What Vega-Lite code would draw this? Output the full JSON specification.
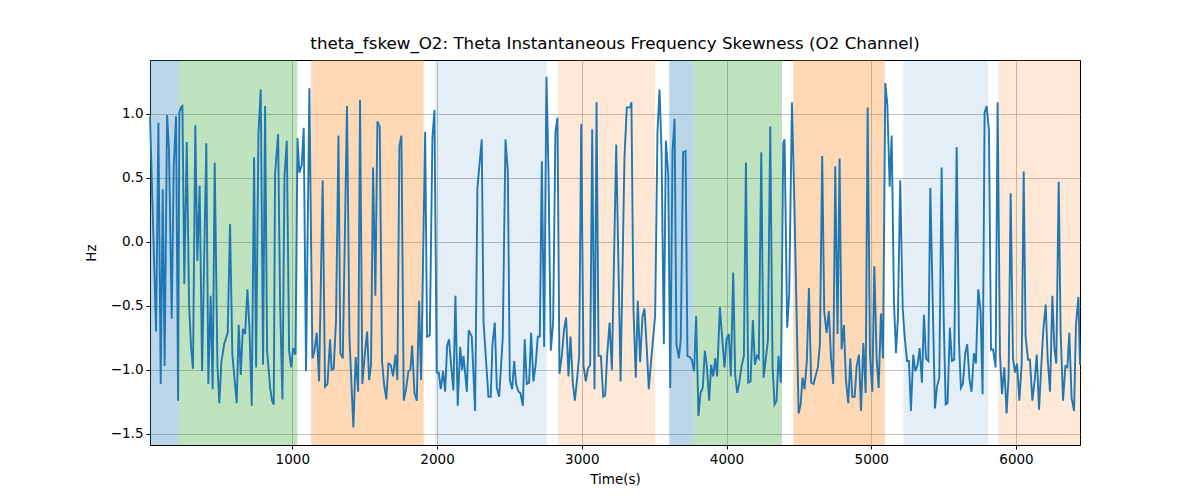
{
 "$schema": "https://vega.github.io/schema/vega-lite/v6.json",
 "width": 930,
 "height": 385,
 "autosize": "none",
 "padding": {"left": 150, "top": 60, "right": 120, "bottom": 55},
 "background": "white",
 "title": {"text": "theta_fskew_O2: Theta Instantaneous Frequency Skewness (O2 Channel)", "font": "DejaVu Sans", "fontSize": 16.7, "fontWeight": "normal", "color": "black", "offset": 7},
 "config": {
  "view": {"stroke": "black", "strokeWidth": 1},
  "axis": {"domain": false, "tickColor": "black", "tickSize": 4, "labelColor": "black", "labelFont": "DejaVu Sans", "labelFontSize": 13.5, "titleFont": "DejaVu Sans", "titleFontSize": 13.5, "titleFontWeight": "normal", "titleColor": "black", "gridColor": "#b0b0b0", "gridWidth": 0.8, "labelPadding": 3}
 },
 "datasets": {
  "spans": [
   {"start": 17, "end": 217, "phase": "A"},
   {"start": 217, "end": 1035, "phase": "B"},
   {"start": 1130, "end": 1908, "phase": "C"},
   {"start": 1987, "end": 2758, "phase": "D"},
   {"start": 2835, "end": 3507, "phase": "E"},
   {"start": 3604, "end": 3772, "phase": "A"},
   {"start": 3772, "end": 4383, "phase": "B"},
   {"start": 4461, "end": 5094, "phase": "C"},
   {"start": 5221, "end": 5808, "phase": "D"},
   {"start": 5877, "end": 6442, "phase": "E"}
  ],
  "series": [
   {"t":17,"v":0.98},{"t":59,"v":-0.70},{"t":75,"v":0.93},{"t":91,"v":-1.11},{"t":105,"v":0.41},{"t":118,"v":-0.97},{"t":135,"v":0.99},{"t":148,"v":0.73},{"t":167,"v":-0.60},{"t":181,"v":0.60},{"t":197,"v":0.98},{"t":211,"v":-1.24},{"t":220,"v":1.01},{"t":231,"v":1.05},{"t":241,"v":1.06},{"t":254,"v":-0.33},{"t":271,"v":0.78},{"t":287,"v":-0.49},{"t":301,"v":-0.83},{"t":314,"v":-0.99},{"t":330,"v":0.91},{"t":344,"v":-0.15},{"t":360,"v":0.44},{"t":377,"v":-1.01},{"t":406,"v":0.77},{"t":420,"v":-1.11},{"t":436,"v":-0.42},{"t":450,"v":-1.15},{"t":464,"v":0.62},{"t":483,"v":-0.97},{"t":496,"v":-1.26},{"t":510,"v":-0.94},{"t":529,"v":-0.80},{"t":554,"v":-0.71},{"t":570,"v":0.14},{"t":586,"v":-0.88},{"t":616,"v":-1.26},{"t":630,"v":-0.65},{"t":644,"v":-1.04},{"t":658,"v":-0.68},{"t":674,"v":-0.72},{"t":690,"v":-0.37},{"t":704,"v":-0.67},{"t":720,"v":-1.28},{"t":736,"v":0.66},{"t":750,"v":-0.98},{"t":766,"v":0.84},{"t":782,"v":1.19},{"t":798,"v":-0.96},{"t":812,"v":1.06},{"t":826,"v":-0.85},{"t":847,"v":-1.14},{"t":860,"v":-1.24},{"t":872,"v":-1.27},{"t":881,"v":0.53},{"t":902,"v":0.84},{"t":916,"v":-0.49},{"t":932,"v":-1.23},{"t":946,"v":0.51},{"t":962,"v":0.79},{"t":978,"v":-0.85},{"t":992,"v":-0.98},{"t":1006,"v":-0.83},{"t":1022,"v":-0.88},{"t":1036,"v":0.81},{"t":1049,"v":0.54},{"t":1065,"v":0.60},{"t":1079,"v":0.89},{"t":1095,"v":-1.01},{"t":1118,"v":1.20},
   {"t":1139,"v":-0.91},{"t":1153,"v":-0.85},{"t":1169,"v":-0.71},{"t":1185,"v":-1.09},{"t":1210,"v":0.48},{"t":1226,"v":-1.13},{"t":1243,"v":-1.11},{"t":1261,"v":-0.76},{"t":1272,"v":-1.00},{"t":1286,"v":-0.99},{"t":1302,"v":-0.62},{"t":1319,"v":0.83},{"t":1332,"v":-0.87},{"t":1349,"v":-0.91},{"t":1378,"v":1.06},{"t":1395,"v":-0.75},{"t":1422,"v":-1.45},{"t":1438,"v":-0.90},{"t":1455,"v":-1.17},{"t":1468,"v":1.11},{"t":1484,"v":-1.11},{"t":1501,"v":-0.88},{"t":1517,"v":-0.70},{"t":1531,"v":-1.08},{"t":1544,"v":-0.96},{"t":1558,"v":0.58},{"t":1574,"v":-0.42},{"t":1588,"v":0.94},{"t":1604,"v":0.90},{"t":1620,"v":-0.93},{"t":1634,"v":-1.11},{"t":1650,"v":-1.23},{"t":1664,"v":-0.95},{"t":1680,"v":-0.96},{"t":1696,"v":-1.05},{"t":1713,"v":-0.88},{"t":1726,"v":-1.08},{"t":1740,"v":0.75},{"t":1754,"v":0.83},{"t":1770,"v":-1.24},{"t":1786,"v":-1.15},{"t":1802,"v":-1.01},{"t":1816,"v":-1.00},{"t":1828,"v":-0.81},{"t":1844,"v":-1.18},{"t":1860,"v":-1.24},{"t":1876,"v":-0.46},{"t":1890,"v":-1.08},{"t":1918,"v":0.86},{"t":1931,"v":-0.74},{"t":1950,"v":-0.73},{"t":1968,"v":0.81},{"t":1982,"v":1.03},{"t":1998,"v":-1.02},{"t":2012,"v":-1.02},{"t":2026,"v":-1.15},{"t":2042,"v":-1.01},{"t":2056,"v":-1.17},{"t":2070,"v":-0.81},{"t":2083,"v":-0.76},{"t":2097,"v":-0.96},{"t":2113,"v":-1.16},{"t":2127,"v":-0.42},{"t":2143,"v":-1.28},{"t":2160,"v":-0.82},{"t":2173,"v":-1.00},{"t":2183,"v":-0.89},{"t":2192,"v":-1.00},{"t":2206,"v":-1.17},{"t":2219,"v":-0.69},
   {"t":2240,"v":-0.74},{"t":2263,"v":-1.32},{"t":2279,"v":0.42},{"t":2309,"v":0.80},{"t":2321,"v":-0.62},{"t":2355,"v":-1.21},{"t":2371,"v":-1.21},{"t":2383,"v":-0.80},{"t":2399,"v":-0.63},{"t":2413,"v":-1.14},{"t":2429,"v":-1.21},{"t":2454,"v":-0.75},{"t":2473,"v":0.80},{"t":2489,"v":0.55},{"t":2503,"v":-1.08},{"t":2519,"v":-1.15},{"t":2533,"v":-0.93},{"t":2546,"v":-1.11},{"t":2563,"v":-1.17},{"t":2576,"v":-1.18},{"t":2593,"v":-1.28},{"t":2606,"v":-0.76},{"t":2620,"v":-1.11},{"t":2636,"v":-1.10},{"t":2650,"v":-0.71},{"t":2666,"v":-1.09},{"t":2682,"v":-0.95},{"t":2696,"v":-0.74},{"t":2710,"v":-0.74},{"t":2724,"v":0.63},{"t":2740,"v":-0.82},{"t":2756,"v":1.29},{"t":2770,"v":0.55},{"t":2786,"v":-0.85},{"t":2802,"v":-0.63},{"t":2818,"v":0.86},{"t":2832,"v":0.97},{"t":2846,"v":-1.03},{"t":2862,"v":-0.89},{"t":2878,"v":-0.68},{"t":2892,"v":-0.59},{"t":2908,"v":-1.05},{"t":2922,"v":-0.74},{"t":2938,"v":-1.10},{"t":2952,"v":-1.24},{"t":2966,"v":-1.09},{"t":2982,"v":-0.89},{"t":2996,"v":0.92},{"t":3012,"v":-0.97},{"t":3028,"v":-1.09},{"t":3042,"v":-0.99},{"t":3058,"v":-0.96},{"t":3072,"v":0.88},{"t":3088,"v":-1.15},{"t":3102,"v":1.09},{"t":3116,"v":-0.89},{"t":3132,"v":-0.89},{"t":3148,"v":-1.21},{"t":3162,"v":-1.20},{"t":3175,"v":-0.89},{"t":3192,"v":-0.63},{"t":3208,"v":-1.00},{"t":3238,"v":0.76},{"t":3268,"v":-1.09},{"t":3295,"v":0.66},{"t":3311,"v":1.05},{"t":3325,"v":1.05},
   {"t":3334,"v":1.05},{"t":3343,"v":1.09},{"t":3357,"v":-0.52},{"t":3373,"v":-1.06},{"t":3387,"v":-0.46},{"t":3403,"v":-0.94},{"t":3419,"v":-0.59},{"t":3433,"v":-0.52},{"t":3449,"v":-0.83},{"t":3463,"v":-1.15},{"t":3479,"v":-0.93},{"t":3507,"v":-0.57},{"t":3523,"v":0.86},{"t":3537,"v":1.19},{"t":3551,"v":0.71},{"t":3567,"v":-0.80},{"t":3581,"v":0.79},{"t":3597,"v":0.53},{"t":3611,"v":-1.14},{"t":3627,"v":0.71},{"t":3641,"v":0.96},{"t":3654,"v":-0.80},{"t":3671,"v":-0.91},{"t":3684,"v":-0.76},{"t":3700,"v":0.70},{"t":3717,"v":0.71},{"t":3730,"v":-0.89},{"t":3747,"v":-0.90},{"t":3760,"v":-0.92},{"t":3776,"v":-1.01},{"t":3790,"v":-0.58},{"t":3806,"v":-1.36},{"t":3820,"v":-1.18},{"t":3836,"v":-1.14},{"t":3850,"v":-0.85},{"t":3864,"v":-0.97},{"t":3880,"v":-1.24},{"t":3894,"v":-0.96},{"t":3908,"v":-1.05},{"t":3922,"v":-0.91},{"t":3935,"v":-1.05},{"t":3954,"v":-0.51},{"t":3970,"v":-0.75},{"t":3986,"v":-0.98},{"t":4000,"v":-0.76},{"t":4016,"v":-0.72},{"t":4030,"v":-1.05},{"t":4046,"v":-0.24},{"t":4060,"v":-1.04},{"t":4074,"v":-1.18},{"t":4088,"v":-1.10},{"t":4104,"v":-0.97},{"t":4120,"v":-0.89},{"t":4134,"v":0.62},{"t":4150,"v":-1.10},{"t":4166,"v":-1.09},{"t":4182,"v":-0.61},{"t":4196,"v":-0.96},{"t":4210,"v":-0.89},{"t":4223,"v":-0.91},{"t":4240,"v":0.70},{"t":4256,"v":-1.06},{"t":4286,"v":-0.77},{"t":4302,"v":0.90},{"t":4318,"v":-0.98},{"t":4332,"v":-1.27},{"t":4346,"v":-1.24},{"t":4359,"v":-0.89},{"t":4376,"v":-1.10},{"t":4392,"v":0.77},{"t":4401,"v":0.80},{"t":4419,"v":-0.67},
   {"t":4433,"v":-0.41},{"t":4452,"v":1.09},{"t":4468,"v":0.34},{"t":4498,"v":-1.34},{"t":4512,"v":-1.27},{"t":4525,"v":-1.06},{"t":4539,"v":-1.15},{"t":4555,"v":-0.93},{"t":4569,"v":-0.36},{"t":4585,"v":-1.10},{"t":4601,"v":-1.11},{"t":4615,"v":-1.05},{"t":4631,"v":-0.98},{"t":4645,"v":-0.80},{"t":4661,"v":0.67},{"t":4675,"v":-0.54},{"t":4691,"v":-0.71},{"t":4707,"v":-0.54},{"t":4721,"v":-0.89},{"t":4737,"v":-1.11},{"t":4751,"v":0.59},{"t":4767,"v":-0.72},{"t":4781,"v":0.65},{"t":4795,"v":-0.84},{"t":4811,"v":-0.65},{"t":4825,"v":-1.08},{"t":4841,"v":-1.26},{"t":4855,"v":-0.91},{"t":4869,"v":-1.21},{"t":4885,"v":-1.21},{"t":4899,"v":-0.97},{"t":4915,"v":-0.88},{"t":4929,"v":-1.32},{"t":4945,"v":-0.79},{"t":4961,"v":-1.18},{"t":4975,"v":1.05},{"t":4991,"v":-0.88},{"t":5007,"v":-1.17},{"t":5021,"v":-0.19},{"t":5037,"v":-0.91},{"t":5051,"v":-1.14},{"t":5067,"v":-0.56},{"t":5081,"v":-0.91},{"t":5097,"v":1.24},{"t":5111,"v":1.07},{"t":5127,"v":0.43},{"t":5141,"v":0.83},{"t":5157,"v":-0.48},{"t":5171,"v":-0.87},{"t":5184,"v":-0.59},{"t":5200,"v":0.48},{"t":5217,"v":-0.52},{"t":5230,"v":-0.73},{"t":5247,"v":-0.93},{"t":5260,"v":-0.93},{"t":5274,"v":-1.32},{"t":5290,"v":-0.88},{"t":5304,"v":-1.01},{"t":5320,"v":-0.96},{"t":5334,"v":-0.83},{"t":5350,"v":-1.10},{"t":5364,"v":-0.57},{"t":5378,"v":-0.91},{"t":5394,"v":-0.93},{"t":5408,"v":0.42},
   {"t":5440,"v":-1.30},{"t":5454,"v":-1.13},{"t":5470,"v":-1.06},{"t":5486,"v":0.58},{"t":5500,"v":-0.57},{"t":5514,"v":-1.27},{"t":5527,"v":-1.26},{"t":5543,"v":-0.67},{"t":5557,"v":-0.93},{"t":5573,"v":-0.92},{"t":5590,"v":0.74},{"t":5606,"v":-0.78},{"t":5619,"v":-1.14},{"t":5633,"v":-1.11},{"t":5649,"v":-0.87},{"t":5663,"v":-0.80},{"t":5679,"v":-1.08},{"t":5693,"v":-1.17},{"t":5709,"v":-0.87},{"t":5723,"v":-0.95},{"t":5739,"v":-0.37},{"t":5755,"v":-0.54},{"t":5769,"v":-1.19},{"t":5783,"v":1.01},{"t":5797,"v":1.06},{"t":5813,"v":0.87},{"t":5827,"v":-0.84},{"t":5841,"v":-0.84},{"t":5859,"v":-0.98},{"t":5873,"v":1.09},{"t":5889,"v":-0.87},{"t":5903,"v":-1.19},{"t":5919,"v":-0.98},{"t":5935,"v":-1.34},{"t":5949,"v":-1.04},{"t":5963,"v":0.38},{"t":5979,"v":-0.91},{"t":5993,"v":-1.02},{"t":6007,"v":-0.95},{"t":6023,"v":-1.24},{"t":6039,"v":-0.95},{"t":6053,"v":0.55},{"t":6066,"v":-0.74},{"t":6083,"v":-0.92},{"t":6096,"v":-0.92},{"t":6113,"v":-1.24},{"t":6129,"v":-1.08},{"t":6143,"v":-0.88},{"t":6159,"v":-1.31},{"t":6175,"v":-0.96},{"t":6189,"v":-0.68},{"t":6205,"v":-0.49},{"t":6219,"v":-0.92},{"t":6235,"v":-1.17},{"t":6251,"v":-0.42},{"t":6265,"v":-0.83},{"t":6278,"v":-0.95},{"t":6295,"v":0.47},{"t":6308,"v":-0.70},{"t":6325,"v":-1.24},{"t":6341,"v":-0.97},{"t":6355,"v":-0.98},{"t":6368,"v":-0.71},{"t":6384,"v":-1.22},{"t":6401,"v":-1.32},{"t":6414,"v":-0.65},{"t":6431,"v":-0.43},{"t":6442,"v":-0.96}
  ]
 },
 "layer": [
  {
   "data": {"name": "spans"},
   "mark": {"type": "rect"},
   "encoding": {
    "x": {"field": "start", "type": "quantitative", "scale": {"domain": [17, 6442], "nice": false, "zero": false}, "axis": {"values": [1000, 2000, 3000, 4000, 5000, 6000], "format": "d", "title": "Time(s)", "titlePadding": 7, "grid": true}},
    "x2": {"field": "end"},
    "color": {"field": "phase", "type": "nominal", "legend": null, "scale": {"domain": ["A", "B", "C", "D", "E"], "range": ["rgba(31,119,180,0.3)", "rgba(44,160,44,0.3)", "rgba(255,127,14,0.3)", "rgba(31,119,180,0.12)", "rgba(255,127,14,0.17)"]}}
   }
  },
  {
   "data": {"name": "series"},
   "mark": {"type": "line", "color": "#1f77b4", "strokeWidth": 1.9},
   "encoding": {
    "x": {"field": "t", "type": "quantitative", "scale": {"domain": [17, 6442], "nice": false, "zero": false}, "axis": {"values": [1000, 2000, 3000, 4000, 5000, 6000], "format": "d", "title": "Time(s)", "titlePadding": 7, "grid": true}},
    "y": {"field": "v", "type": "quantitative", "scale": {"domain": [-1.586, 1.42], "nice": false, "zero": false}, "axis": {"values": [-1.5, -1, -0.5, 0, 0.5, 1], "format": ".1f", "title": "Hz", "titlePadding": 12, "grid": true}}
   }
  }
 ]
}
